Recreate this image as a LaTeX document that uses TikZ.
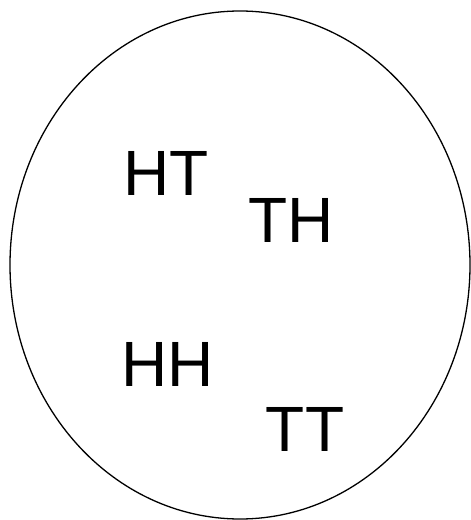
\documentclass[tikz,border=0pt]{standalone}
\usepackage{fontspec}
\setmainfont{Liberation Sans}
\tikzset{lbl/.style={inner sep=0pt, anchor=base, font=\fontsize{64}{77}\selectfont}}
\begin{document}
\begin{tikzpicture}[x=1pt,y=1pt]
\useasboundingbox (0,0) rectangle (471,520);
\draw[line width=1.3pt] (240,255) ellipse [x radius=230, y radius=254];
\node[lbl] (ht) at (166,324) {HT};
\node[lbl] (th) at (291.5,277) {TH};
\node[lbl] (hh) at (167.5,133) {HH};
\node[lbl] (tt) at (305,68.5) {TT};
\end{tikzpicture}
\end{document}
